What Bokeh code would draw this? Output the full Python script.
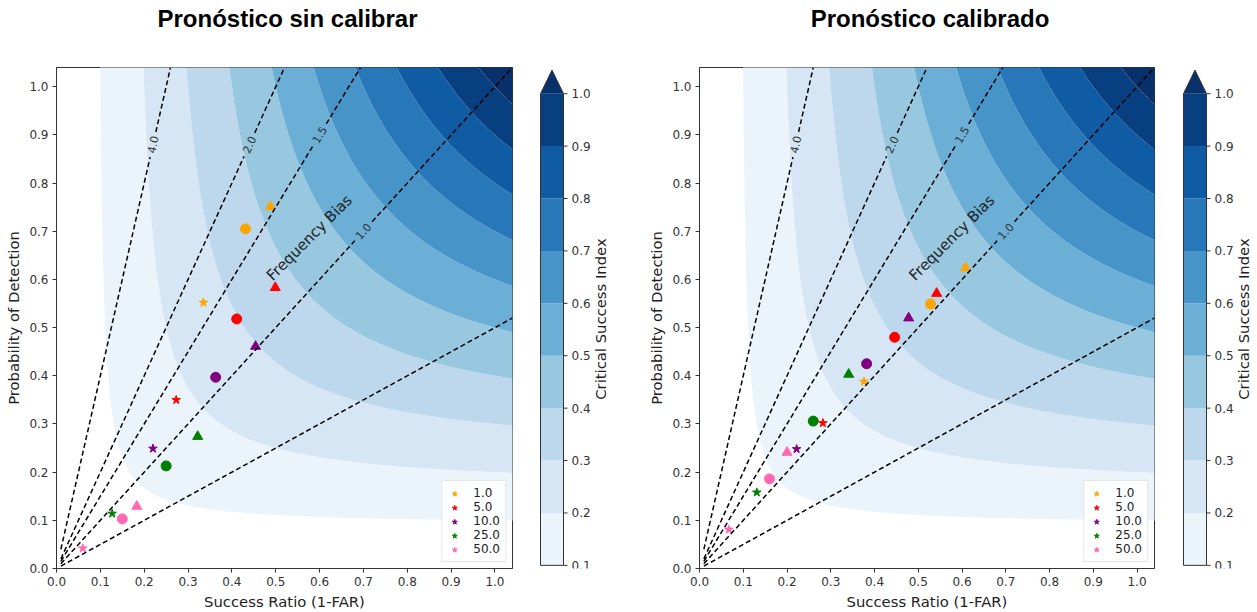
import math
import numpy as np
from bokeh.plotting import figure
from bokeh.layouts import row, column
from bokeh.models import FixedTicker, PrintfTickFormatter, Legend, LegendItem, Range1d
from bokeh.embed import file_html
from bokeh.resources import INLINE
from bokeh.core.properties import value

# Forecast thresholds and the colour used for each one
thresholds = ["1.0", "5.0", "10.0", "25.0", "50.0"]
threshold_colors = ["#FFA500", "#FF0000", "#800080", "#008000", "#FF69B4"]

# Uncalibrated forecast: success ratio / probability of detection per threshold
uncal_star_sr = [0.335, 0.273, 0.220, 0.127, 0.060]
uncal_star_pod = [0.552, 0.350, 0.249, 0.114, 0.042]
uncal_circle_sr = [0.431, 0.411, 0.363, 0.250, 0.150]
uncal_circle_pod = [0.705, 0.518, 0.397, 0.213, 0.103]
uncal_tri_sr = [0.488, 0.499, 0.454, 0.322, 0.183]
uncal_tri_pod = [0.751, 0.583, 0.461, 0.274, 0.129]

# Calibrated forecast
cal_star_sr = [0.376, 0.282, 0.222, 0.131, 0.067]
cal_star_pod = [0.388, 0.302, 0.248, 0.158, 0.081]
cal_circle_sr = [0.528, 0.446, 0.382, 0.260, 0.160]
cal_circle_pod = [0.549, 0.480, 0.425, 0.306, 0.186]
cal_tri_sr = [0.608, 0.542, 0.478, 0.341, 0.200]
cal_tri_pod = [0.624, 0.571, 0.520, 0.403, 0.241]

# Frequency-bias reference lines, their labels and the success ratio where each label sits
bias_values = [0.5, 1.0, 1.5, 2.0, 4.0]
bias_labels = ["", "1.0", "1.5", "2.0", "4.0"]
bias_label_sr = [None, 0.70, 0.60, 0.44, 0.22]

# CSI contour levels and axis ticks
csi_levels = [0.1, 0.2, 0.3, 0.4, 0.5, 0.6, 0.7, 0.8, 0.9, 1.0]
csi_tick_labels = ["0.1", "0.2", "0.3", "0.4", "0.5", "0.6", "0.7", "0.8", "0.9", "1.0"]
axis_ticks = [0.0, 0.1, 0.2, 0.3, 0.4, 0.5, 0.6, 0.7, 0.8, 0.9, 1.0]

# Blues colormap sampled at band midpoints, plus the colour above the top level
band_colors = ["#ecf4fb", "#d6e6f4", "#bdd7ec", "#98c7e0", "#6baed6",
               "#4795c8", "#2878b9", "#105ca4", "#083f81"]
over_color = "#08306b"

panel_titles = ["Pronóstico sin calibrar", "Pronóstico calibrado"]

AX_MAX = 1.04
FONT = "DejaVu Sans"
LABEL_SIZE = "14.8px"
TITLE_H = 40
H = 612 - TITLE_H


def blank(width, height, x_range, y_range):
    f = figure(width=width, height=height, x_range=x_range, y_range=y_range,
               x_axis_location=None, y_axis_location=None,
               min_border_left=0, min_border_right=0, min_border_top=0, min_border_bottom=0,
               output_backend="svg", toolbar_location=None)
    f.grid.visible = False
    f.outline_line_color = None
    return f


def style_axis(ax, label):
    ax.ticker = FixedTicker(ticks=axis_ticks)
    ax.formatter = PrintfTickFormatter(format="%.1f")
    ax.axis_label = label
    ax.axis_label_text_font = FONT
    ax.axis_label_text_font_size = LABEL_SIZE
    ax.axis_label_text_font_style = "normal"
    ax.axis_label_text_color = "#222222"
    ax.axis_label_standoff = 4
    ax.major_label_text_font = FONT
    ax.major_label_text_font_size = "12px"
    ax.major_label_text_color = "#333333"
    ax.major_label_standoff = 4
    ax.major_tick_in = 0
    ax.major_tick_out = 4
    ax.minor_tick_line_color = None
    ax.axis_line_color = "#333333"
    ax.major_tick_line_color = "#333333"


def panel(star, circle, tri, left, top, frame_w, frame_h, right):
    p = figure(width=left + frame_w + right, height=H,
               x_range=Range1d(0, AX_MAX), y_range=Range1d(0, AX_MAX),
               min_border_left=left, min_border_right=right,
               min_border_top=top, min_border_bottom=H - top - frame_h,
               output_backend="svg", toolbar_location=None)
    p.grid.visible = False
    p.outline_line_color = "#333333"
    p.outline_line_width = 1

    style_axis(p.xaxis, "Success Ratio (1-FAR)")
    style_axis(p.yaxis, "Probability of Detection")

    # CSI field
    grid = np.linspace(0.01, 1.06, 320)
    sr_g, pod_g = np.meshgrid(grid, grid)
    csi_g = 1.0 / (1.0 / sr_g + 1.0 / pod_g - 1.0)
    p.contour(grid, grid, csi_g, levels=csi_levels + [1.2],
              fill_color=band_colors + [over_color], line_color=None)

    # forecast points
    p.scatter(circle[0], circle[1], marker="circle", size=10,
              fill_color=threshold_colors, line_color=threshold_colors)
    p.scatter(tri[0], tri[1], marker="triangle", size=10,
              fill_color=threshold_colors, line_color=threshold_colors)
    items = []
    for sr, pod, col, lab in zip(star[0], star[1], threshold_colors, thresholds):
        r = p.scatter([sr], [pod], marker="star", size=9, fill_color=col, line_color=col)
        items.append(LegendItem(label=lab, renderers=[r]))

    # frequency-bias lines with inline labels
    sx = frame_w / AX_MAX
    sy = frame_h / AX_MAX
    for b, lab, lsr in zip(bias_values, bias_labels, bias_label_sr):
        end = min(AX_MAX, AX_MAX / b)
        if lab:
            half_gap = 13.0 / math.hypot(sx, sy * b)
            spans = [(0.01, lsr - half_gap), (lsr + half_gap, end)]
        else:
            spans = [(0.01, end)]
        for a, c in spans:
            p.line([a, c], [b * a, b * c], line_color="black", line_dash="5 3", line_width=1.5)
        if lab:
            p.text(x=[lsr], y=[b * lsr], text=[lab], angle=math.atan2(sy * b, sx),
                   text_align="center", text_baseline="middle",
                   text_font=value(FONT), text_font_size="11px", text_color="#333333")

    p.text(x=[0.485], y=[0.603], text=["Frequency Bias"], angle=math.pi / 4,
           text_align="left", text_baseline="alphabetic",
           text_font=value(FONT), text_font_size="15px", text_color="#222222")

    legend = Legend(items=items, location="bottom_right")
    legend.label_text_font = FONT
    legend.label_text_font_size = "12px"
    legend.label_text_color = "#222222"
    legend.glyph_width = 14
    legend.glyph_height = 13
    legend.label_standoff = 12
    legend.spacing = 0
    legend.padding = 5
    legend.margin = 6
    legend.border_line_color = "#cccccc"
    legend.background_fill_alpha = 0.85
    p.add_layout(legend)
    return p


def colorbar(width, top, bottom, bar_left):
    """Colour bar drawn in a frame whose x units are pixels."""
    cb = blank(width, H, Range1d(0, width), Range1d(0.094, 1.05))
    cb.min_border_top = top
    cb.min_border_bottom = bottom
    bar_right = bar_left + 23
    apex = 0.5 * (bar_left + bar_right)
    cb.quad(left=bar_left, right=bar_right, bottom=csi_levels[:-1], top=csi_levels[1:],
            fill_color=band_colors, line_color=None)
    cb.patch([bar_left, bar_right, apex], [1.0, 1.0, 1.045], fill_color=over_color, line_color=None)
    cb.line([bar_left, bar_left, bar_right, bar_right, apex, bar_left],
            [1.0, 0.1, 0.1, 1.0, 1.045, 1.0], line_color="#333333", line_width=1)
    # ticks and tick labels on the right side of the bar
    cb.segment(x0=bar_right, x1=bar_right + 4, y0=csi_levels, y1=csi_levels,
               line_color="#333333", line_width=1)
    cb.text(x=bar_right + 8, y=csi_levels, text=csi_tick_labels,
            text_align="left", text_baseline="middle",
            text_font=value(FONT), text_font_size="12px", text_color="#333333")
    # caption, reading bottom to top
    cb.text(x=[bar_right + 37], y=[0.57], text=["Critical Success Index"], angle=math.pi / 2,
            text_align="center", text_baseline="middle",
            text_font=value(FONT), text_font_size=LABEL_SIZE, text_color="#222222")
    return cb


p1 = panel((uncal_star_sr, uncal_star_pod), (uncal_circle_sr, uncal_circle_pod),
           (uncal_tri_sr, uncal_tri_pod), left=56, top=27, frame_w=456, frame_h=505, right=18)
cb1 = colorbar(98, top=24, bottom=37, bar_left=10)
p2 = panel((cal_star_sr, cal_star_pod), (cal_circle_sr, cal_circle_pod),
           (cal_tri_sr, cal_tri_pod), left=71, top=25, frame_w=455, frame_h=505, right=20)
cb2 = colorbar(83, top=22, bottom=39, bar_left=9)

# title strip above both panels, x in pixels
title_strip = blank(1257, TITLE_H, Range1d(0, 1257), Range1d(TITLE_H, 0))
title_x = [56 + 456 / 2 + 3, 628 + 71 + 455 / 2 + 3]
title_strip.text(x=title_x, y=[18, 18], text=panel_titles,
                 text_align="center", text_baseline="middle",
                 text_font=value("Liberation Sans"), text_font_size="24px",
                 text_font_style="bold", text_color="black")

layout = column(title_strip, row(p1, cb1, p2, cb2))
open("out.html", "w").write(file_html(layout, INLINE))
